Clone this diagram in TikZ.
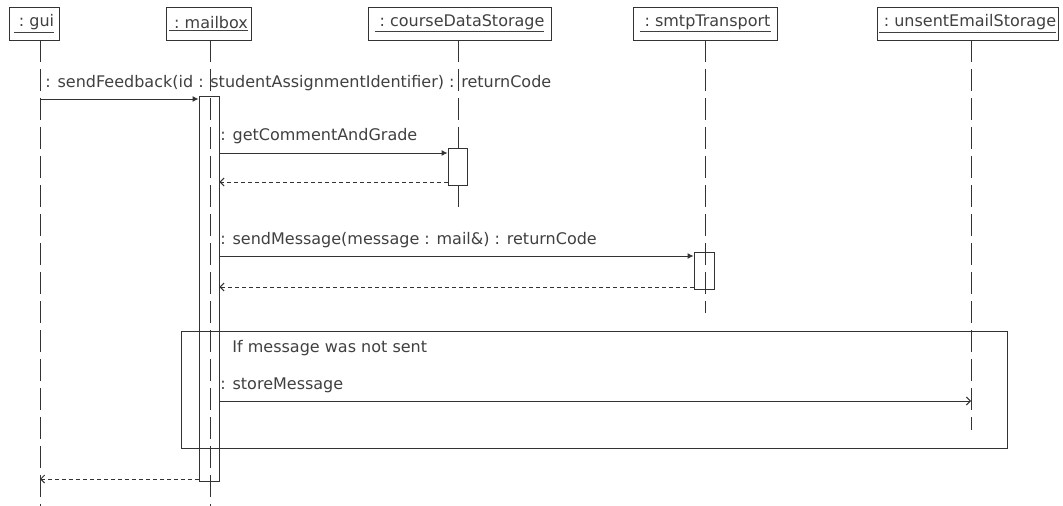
\documentclass[tikz,border=0pt]{standalone}
\usepackage{fontspec}
\setmainfont{DejaVu Sans}
\usetikzlibrary{arrows.meta,fit}

\begin{document}
\begin{tikzpicture}[x=0.75pt, y=-0.75pt, line width=0.7pt, draw=black!80,
  obj/.style={draw, inner sep=0pt, minimum height=24.75pt, font=\fontsize{12}{14}\selectfont, text=black!75},
  act/.style={draw, inner sep=0pt},
  life/.style={dash pattern=on 16.5pt off 5.25pt},
  call/.style={-{Latex[length=4.5pt,width=4.5pt]}},
  ret/.style={dash pattern=on 3pt off 2.25pt, -{Straight Barb[length=3pt,width=6pt]}},
  send/.style={-{Straight Barb[length=3pt,width=6pt]}},
  lbl/.style={anchor=base west, inner sep=0pt, font=\fontsize{12}{14}\selectfont, text=black!75}]
  \useasboundingbox (0,0) rectangle (1063,506);
  % Objects
  \node[obj, minimum width=37.5pt] (gui) at (34,23.5) {\underline{\ :\ gui}};
  \node[obj, minimum width=63.75pt] (mailbox) at (208.5,23.5) {\underline{\ :\ mailbox}};
  \node[obj, minimum width=137.25pt] (course) at (459.5,23.5) {\underline{\ :\ courseDataStorage}};
  \node[obj, minimum width=108pt] (smtp) at (705,23.5) {\underline{\ :\ smtpTransport}};
  \node[obj, minimum width=135.75pt] (unsent) at (967.5,23.5) {\underline{\ :\ unsentEmailStorage}};
  % Lifelines
  \coordinate (Lgui) at (40,40);
  \coordinate (Lmail) at (210,40);
  \coordinate (Lcourse) at (458,40);
  \coordinate (Lsmtp) at (705,40);
  \coordinate (Lunsent) at (971,40);
  \draw[life] (Lgui) -- ++(0,466);
  \draw[life] (Lmail) -- ++(0,466);
  \draw[life] (Lcourse) -- ++(0,167);
  \draw[life] (Lsmtp) -- ++(0,273);
  \draw[life] (Lunsent) -- ++(0,390);
  % Activations
  \node[act, fit={(199,96) (219,481)}] (actMail) {};
  \node[act, fill=white, fit={(448,148) (467,185)}] (actCourse) {};
  \node[act, fit={(694,252) (714,289)}] (actSmtp) {};
  % Alternative frame
  \node[draw, inner sep=0pt, fit={(181,331) (1007,448)}] (alt) {};
  \node[lbl] (cond) at (232,352) {If message was not sent};
  % Message rows
  \coordinate (r1) at (0,99);
  \coordinate (r2) at (0,153);
  \coordinate (r3) at (0,182);
  \coordinate (r4) at (0,256);
  \coordinate (r5) at (0,287);
  \coordinate (r6) at (0,401);
  \coordinate (r7) at (0,479);
  % Messages
  \draw[call] (Lgui |- r1) -- (actMail.west |- r1);
  \node[lbl] (m1) at (45,88) {:  sendFeedback(id : studentAssignmentIdentifier) : returnCode};
  \draw[call] (actMail.east |- r2) -- (actCourse.west |- r2);
  \node[lbl] (m2) at (220,141) {:  getCommentAndGrade};
  \draw[ret] (actCourse.west |- r3) -- (actMail.east |- r3);
  \draw[call] (actMail.east |- r4) -- (actSmtp.west |- r4);
  \node[lbl] (m3) at (220,244) {:  sendMessage(message : mail\&) : returnCode};
  \draw[ret] (actSmtp.west |- r5) -- (actMail.east |- r5);
  \draw[send] (actMail.east |- r6) -- (Lunsent |- r6);
  \node[lbl] (m4) at (220,389) {:  storeMessage};
  \draw[ret] (actMail.west |- r7) -- (Lgui |- r7);
\end{tikzpicture}
\end{document}
